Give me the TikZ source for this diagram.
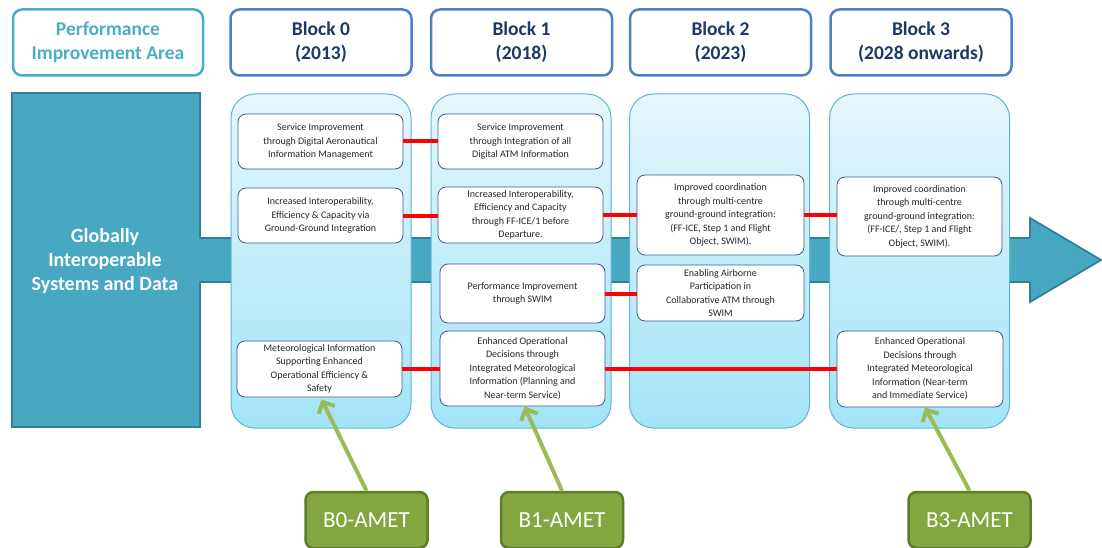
\documentclass[tikz,border=0pt]{standalone}
\usepackage{fontspec}
\setmainfont{Carlito}
\usetikzlibrary{arrows.meta}
\definecolor{tealfill}{HTML}{48A8C2}
\definecolor{tealdraw}{HTML}{2F8198}
\definecolor{piatext}{HTML}{4BACC6}
\definecolor{hdrblue}{HTML}{4F7FC0}
\definecolor{navy}{HTML}{1F3864}
\definecolor{coltop}{HTML}{E4F7FD}
\definecolor{colbot}{HTML}{A3E4F7}
\definecolor{colborder}{HTML}{62B3D3}
\definecolor{iboxborder}{HTML}{3A5A96}
\definecolor{ametfill}{HTML}{84A640}
\definecolor{ametdraw}{HTML}{5E7D26}
\definecolor{greenarrow}{HTML}{9BBB59}
\definecolor{redline}{HTML}{FF0000}
\begin{document}
\begin{tikzpicture}[x=1pt,y=-1pt,
  hdr/.style={draw=hdrblue, line width=2.5pt, rounded corners=9pt, fill=white,
    minimum width=181pt, minimum height=66pt, align=center,
    font=\fontsize{19.5}{24}\selectfont\bfseries, text=navy},
  col/.style={draw=colborder, line width=1pt, rounded corners=24pt,
    top color=coltop, bottom color=colbot, minimum width=180pt, minimum height=334pt},
  ibox/.style={draw=iboxborder, line width=0.8pt, fill=white, rounded corners=8pt,
    align=center, font=\fontsize{10}{13.5}\selectfont, text=black!85, inner sep=1pt},
  redlink/.style={draw=redline, line width=4pt},
  amet/.style={draw=ametdraw, line width=2.5pt, fill=ametfill, rounded corners=8pt,
    minimum width=122pt, minimum height=56pt, text=white,
    font=\fontsize{23}{26}\selectfont},
  garrow/.style={draw=greenarrow, line width=4pt, -{Straight Barb[length=9pt,width=18pt,line width=4pt]}}
]
\useasboundingbox (0,0) rectangle (1102,548);
\clip (0,0) rectangle (1102,548);

% headers
\node[hdr, draw=piatext, text=piatext, minimum width=190pt] (pia) at (108,42.5) {Performance\\Improvement Area};
\node[hdr] (h0) at (321,42.5) {Block 0\\(2013)};
\node[hdr] (h1) at (521.5,42.5) {Block 1\\(2018)};
\node[hdr] (h2) at (720.5,42.5) {Block 2\\(2023)};
\node[hdr] (h3) at (921,42.5) {Block 3\\(2028 onwards)};

% big arrow
\draw[fill=tealfill, draw=tealdraw, line width=1.8pt, line join=miter]
  (12,93) -- (200,93) -- (200,238) -- (1030,238) -- (1030,218) -- (1101,260)
  -- (1030,302) -- (1030,282) -- (200,282) -- (200,427) -- (12,427) -- cycle;
\node[text=white, align=center, font=\fontsize{20}{24}\selectfont\bfseries] (gisd) at (105,261)
  {Globally\\Interoperable\\Systems and Data};

% columns
\node[col] (c0) at (321,261) {};
\node[col] (c1) at (521,261) {};
\node[col] (c2) at (719.5,261) {};
\node[col] (c3) at (919.5,261) {};

% inner boxes
\node[ibox, minimum width=165pt, minimum height=55pt] (b01) at (320.5,141.5)
  {Service Improvement\\through Digital Aeronautical\\Information Management};
\node[ibox, minimum width=165pt, minimum height=55pt] (b02) at (320.5,215.5)
  {Increased Interoperability,\\Efficiency \& Capacity via\\Ground-Ground Integration};
\node[ibox, minimum width=165pt, minimum height=56pt] (b03) at (319.5,369)
  {Meteorological Information\\Supporting Enhanced\\Operational Efficiency \&\\Safety};

\node[ibox, minimum width=165pt, minimum height=55pt] (b11) at (520.5,141.5)
  {Service Improvement\\through Integration of all\\Digital ATM Information};
\node[ibox, minimum width=165pt, minimum height=56pt] (b12) at (520.5,215)
  {Increased Interoperability,\\Efficiency and Capacity\\through FF-ICE/1 before\\Departure.};
\node[ibox, minimum width=165pt, minimum height=59pt] (b13) at (522.5,293.5)
  {Performance Improvement\\through SWIM};
\node[ibox, minimum width=165pt, minimum height=75pt] (b14) at (522.5,368.5)
  {Enhanced Operational\\Decisions through\\Integrated Meteorological\\Information (Planning and\\Near-term Service)};

\node[ibox, minimum width=167pt, minimum height=80pt] (b21) at (720.5,215)
  {Improved coordination\\through multi-centre\\ground-ground integration:\\(FF-ICE, Step 1 and Flight\\Object, SWIM).};
\node[ibox, minimum width=167pt, minimum height=56pt] (b22) at (720.5,293)
  {Enabling Airborne\\Participation in\\Collaborative ATM through\\SWIM};

\node[ibox, minimum width=165pt, minimum height=79pt] (b31) at (919.5,216.5)
  {Improved coordination\\through multi-centre\\ground-ground integration:\\(FF-ICE/, Step 1 and Flight\\Object, SWIM).};
\node[ibox, minimum width=166pt, minimum height=76pt] (b32) at (920,369)
  {Enhanced Operational\\Decisions through\\Integrated Meteorological\\Information (Near-term\\and Immediate Service)};

% red links
\draw[redlink] (b01.east) -- (b01.east -| b11.west);
\draw[redlink] (b02.east) -- (b02.east -| b12.west);
\draw[redlink] (b12.east) -- (b12.east -| b21.west);
\draw[redlink] (b21.east) -- (b21.east -| b31.west);
\draw[redlink] (b13.east) -- (b13.east -| b22.west);
\draw[redlink] (b03.east) -- (b03.east -| b14.west);
\draw[redlink] (b14.east) -- (b14.east -| b32.west);

% AMET boxes
\node[amet] (a0) at (366.5,520) {B0-AMET};
\node[amet] (a1) at (562,520) {B1-AMET};
\node[amet] (a3) at (969.5,520) {B3-AMET};

\draw[garrow] (a0.north) -- ([xshift=2pt,yshift=-2pt]b03.south);
\draw[garrow] (a1.north) -- ([xshift=2pt]b14.south);
\draw[garrow] (a3.north) -- ([xshift=5pt]b32.south);
\end{tikzpicture}
\end{document}
